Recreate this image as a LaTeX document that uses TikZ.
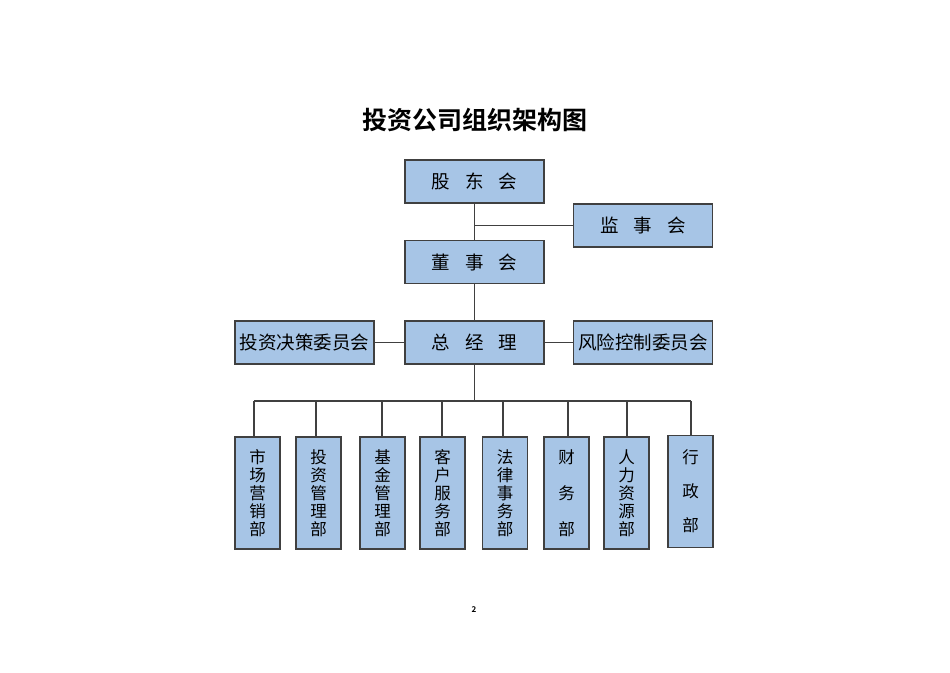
\documentclass[tikz,border=0pt]{standalone}
\usepackage{fontspec}
\newfontfamily\cjk{Noto Sans CJK SC}
\newfontfamily\cjkb{Noto Sans CJK SC Bold}
\definecolor{boxfill}{HTML}{A7C5E6}
\definecolor{boxline}{HTML}{404040}
\begin{document}
\begin{tikzpicture}[x=1pt,y=-1pt,
  hbox/.style={draw=boxline,line width=1.3pt,fill=boxfill,minimum width=139pt,minimum height=43pt,inner sep=0pt,font=\cjk\fontsize{18.5}{18.5}\selectfont},
  vbox/.style={draw=boxline,line width=1.3pt,fill=boxfill,minimum width=45pt,minimum height=112pt,inner sep=0pt,align=center,font=\cjk\fontsize{16.5}{18}\selectfont},
  conn/.style={draw=boxline,line width=1.1pt}]
\useasboundingbox (0,0) rectangle (950,672);
\fill[white] (0,0) rectangle (950,672);
\node[font=\cjkb\fontsize{25}{25}\selectfont] (title) at (475,120) {投资公司组织架构图};
\node[hbox] (gd) at (474.5,181.5) {股\hspace{0.8em}东\hspace{0.8em}会};
\node[hbox] (js) at (643,225.5) {监\hspace{0.8em}事\hspace{0.8em}会};
\node[hbox] (ds) at (474.5,262) {董\hspace{0.8em}事\hspace{0.8em}会};
\node[hbox] (zjl) at (474.5,342.5) {总\hspace{0.8em}经\hspace{0.8em}理};
\node[hbox] (tzjc) at (304.5,342.5) {投资决策委员会};
\node[hbox] (fxkz) at (643,342.5) {风险控制委员会};
\coordinate (jsj) at (474.5,225.5);
\coordinate (bus) at (474.5,401);
\draw[conn] (gd.south) -- (ds.north);
\draw[conn] (jsj) -- (js.west);
\draw[conn] (ds.south) -- (zjl.north);
\draw[conn] (tzjc.east) -- (zjl.west);
\draw[conn] (zjl.east) -- (fxkz.west);
\draw[conn] (zjl.south) -- (bus);
\node[vbox] (d1) at (257.5,493) {市\\场\\营\\销\\部};
\node[vbox] (d2) at (318.5,493) {投\\资\\管\\理\\部};
\node[vbox] (d3) at (382.5,493) {基\\金\\管\\理\\部};
\node[vbox] (d4) at (442.5,493) {客\\户\\服\\务\\部};
\node[vbox] (d5) at (505,493) {法\\律\\事\\务\\部};
\node[vbox] (d6) at (566.5,493) {财\\[18pt]务\\[18pt]部};
\node[vbox] (d7) at (626.5,493) {人\\力\\资\\源\\部};
\node[vbox] (d8) at (690.5,491.5) {行\\[16pt]政\\[16pt]部};
\coordinate (b1) at (254,401);
\coordinate (b8) at (691,401);
\draw[conn] (b1) -- (b8);
\foreach \d/\x in {d1/254,d2/316,d3/382,d4/442,d5/503,d6/568,d7/627,d8/691}{
  \draw[conn] (\x,401) -- (\x,401 |- \d.north);
}
\node[font=\cjkb\fontsize{8}{8}\selectfont] (pg) at (474,610) {2};
\end{tikzpicture}
\end{document}
